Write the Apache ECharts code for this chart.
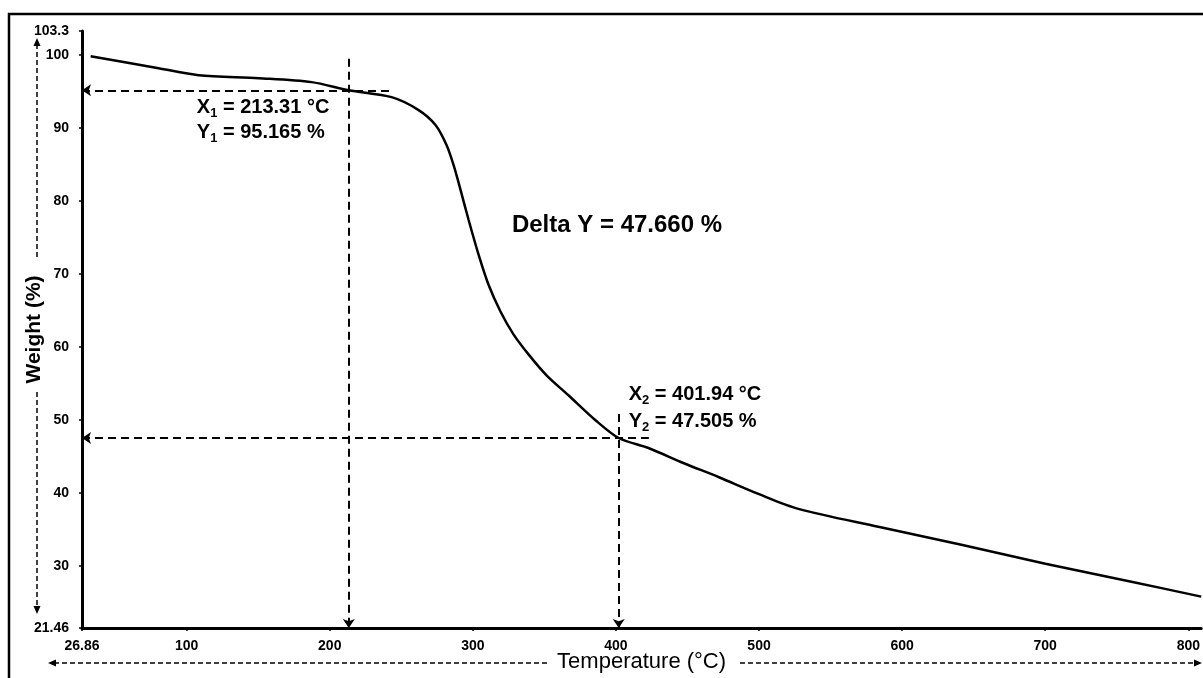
<!DOCTYPE html>
<html><head><meta charset="utf-8">
<script src="https://cdn.jsdelivr.net/npm/echarts@6/dist/echarts.min.js"></script>
<style>html,body{margin:0;padding:0;background:#fff}#c{width:1203px;height:678px}</style>
</head><body><div id="c"></div>
<script>
// ---- data ----
const temperatures = [32.9, 80.4, 108.4, 150.3, 187.3, 213.31, 243.2, 262.1, 273.9, 281.6, 286.5, 291.4, 297, 304, 310.9, 319.3, 328.4, 338.9, 351.5, 366.8, 385.7, 401.94, 422.7, 447.1, 471.6, 499.6, 527.5, 583.4, 641.4, 700.1, 760.2, 809];
const weights      = [99.84, 98.2, 97.24, 96.83, 96.29, 95.165, 94.23, 92.46, 90.41, 87.67, 84.94, 81.52, 77.42, 72.64, 68.54, 64.85, 61.71, 58.97, 56.1, 53.37, 49.95, 47.505, 46.13, 44.08, 42.16, 39.84, 37.79, 35.33, 32.87, 30.27, 27.81, 25.76];
const xTickValues = [26.86, 100, 200, 300, 400, 500, 600, 700, 800];
const yTickValues = [21.46, 30, 40, 50, 60, 70, 80, 90, 100, 103.3];
const xRange = [26.86, 809];
const yRange = [21.46, 103.3];
const point1 = [213.31, 95.165];
const point2 = [401.94, 47.505];
const point1LineEnds = [243, 99.5];   // horizontal dashed end x, vertical dashed top y
const point2LineEnds = [423, 50.8];
const deltaY = '47.660';

const FONT = "'Liberation Sans', Arial, sans-serif";
const chart = echarts.init(document.getElementById('c'), null, {renderer: 'canvas'});

const seriesData = temperatures.map((t, i) => [t, weights[i]]);
const dash = {color: '#000', width: 2, type: [8, 5]};

const option = {
  animation: false,
  backgroundColor: '#fff',
  grid: {left: 82, right: 0, top: 31, bottom: 48, containLabel: false},
  xAxis: {
    type: 'value', min: xRange[0], max: xRange[1],
    name: 'Temperature (°C)', nameLocation: 'middle', nameGap: 23, nameMoveOverlap: false,
    nameTextStyle: {fontFamily: FONT, fontSize: 22, color: '#000'},
    axisLine: {show: true, lineStyle: {color: '#000', width: 3}},
    axisTick: {show: true, length: 3, customValues: xTickValues, lineStyle: {color: '#000', width: 1.5}},
    axisLabel: {customValues: xTickValues, fontFamily: FONT, fontWeight: 'bold', fontSize: 14, color: '#000', margin: 11,
      alignMinLabel: 'center', alignMaxLabel: 'center', hideOverlap: false,
      formatter: v => String(v)},
    splitLine: {show: false}
  },
  yAxis: {
    type: 'value', min: yRange[0], max: yRange[1],
    name: 'Weight (%)', nameLocation: 'middle', nameGap: 37, nameRotate: 90, nameMoveOverlap: false,
    nameTextStyle: {fontFamily: FONT, fontSize: 21, fontWeight: 'bold', color: '#000'},
    axisLine: {show: true, lineStyle: {color: '#000', width: 3}},
    axisTick: {show: true, length: 3, customValues: yTickValues, lineStyle: {color: '#000', width: 1.5}},
    axisLabel: {customValues: yTickValues, fontFamily: FONT, fontWeight: 'bold', fontSize: 14, color: '#000', margin: 13,
      verticalAlignMinLabel: 'middle', verticalAlignMaxLabel: 'middle', hideOverlap: false,
      formatter: v => String(v)},
    splitLine: {show: false}
  },
  series: [{
    type: 'line', data: seriesData, smooth: 0.3, showSymbol: false,
    lineStyle: {color: '#000', width: 2.5},
    markLine: {
      silent: true, symbolSize: 9, label: {show: false},
      lineStyle: dash,
      data: [
        [{coord: [xRange[0], point1[1]], symbol: 'arrow'}, {coord: [point1LineEnds[0], point1[1]], symbol: 'none'}],
        [{coord: [point1[0], point1LineEnds[1]], symbol: 'none'}, {coord: [point1[0], yRange[0]], symbol: 'arrow'}],
        [{coord: [xRange[0], point2[1]], symbol: 'arrow'}, {coord: [point2LineEnds[0], point2[1]], symbol: 'none'}],
        [{coord: [point2[0], point2LineEnds[1]], symbol: 'none'}, {coord: [point2[0], yRange[0]], symbol: 'arrow'}]
      ]
    }
  }]
};
chart.setOption(option);

// annotation texts
const rich = {
  b: {fontFamily: FONT, fontSize: 20, fontWeight: 'bold', fill: '#000', lineHeight: 26, verticalAlign: 'middle'},
  s: {fontFamily: FONT, fontSize: 13, fontWeight: 'bold', fill: '#000', lineHeight: 26, verticalAlign: 'bottom'}
};
function txt(x, y, text, align) {
  return {type: 'text', x: x, y: y, style: {text: text, rich: rich, align: align || 'left', verticalAlign: 'middle'}};
}
const p1 = chart.convertToPixel({gridIndex: 0}, point1);
const p2 = chart.convertToPixel({gridIndex: 0}, point2);
const dashSmall = {stroke: '#000', lineWidth: 1.5, lineDash: [5, 3]};
chart.setOption({
  graphic: [
    txt(p1[0] - 152, p1[1] + 17, '{b|X}{s|1}{b| = ' + point1[0].toFixed(2) + ' °C}'),
    txt(p1[0] - 152, p1[1] + 42, '{b|Y}{s|1}{b| = ' + point1[1].toFixed(3) + ' %}'),
    txt(p2[0] + 10, p2[1] - 44, '{b|X}{s|2}{b| = ' + point2[0].toFixed(2) + ' °C}'),
    txt(p2[0] + 10, p2[1] - 17, '{b|Y}{s|2}{b| = ' + point2[1].toFixed(3) + ' %}'),
    {type: 'text', x: 617, y: 225, style: {text: 'Delta Y = ' + deltaY + ' %', font: 'bold 24px ' + FONT, fill: '#000', align: 'center', verticalAlign: 'middle'}},
    // outer frame
    {type: 'rect', shape: {x: 9, y: 14, width: 1260, height: 720}, style: {fill: 'none', stroke: '#000', lineWidth: 2.5}},
    // decorative axis-name arrows
    {type: 'line', shape: {x1: 37, y1: 44, x2: 37, y2: 260}, style: dashSmall},
    {type: 'line', shape: {x1: 37, y1: 392, x2: 37, y2: 608}, style: dashSmall},
    {type: 'polygon', shape: {points: [[33.5, 46], [40.5, 46], [37, 38]]}, style: {fill: '#000'}},
    {type: 'polygon', shape: {points: [[33.5, 606], [40.5, 606], [37, 614]]}, style: {fill: '#000'}},
    {type: 'line', shape: {x1: 54, y1: 663, x2: 548, y2: 663}, style: dashSmall},
    {type: 'line', shape: {x1: 740, y1: 663, x2: 1196, y2: 663}, style: dashSmall},
    {type: 'polygon', shape: {points: [[56, 659.5], [56, 666.5], [48, 663]]}, style: {fill: '#000'}},
    {type: 'polygon', shape: {points: [[1194, 659.5], [1194, 666.5], [1202, 663]]}, style: {fill: '#000'}}
  ]
});
</script>
</body></html>
